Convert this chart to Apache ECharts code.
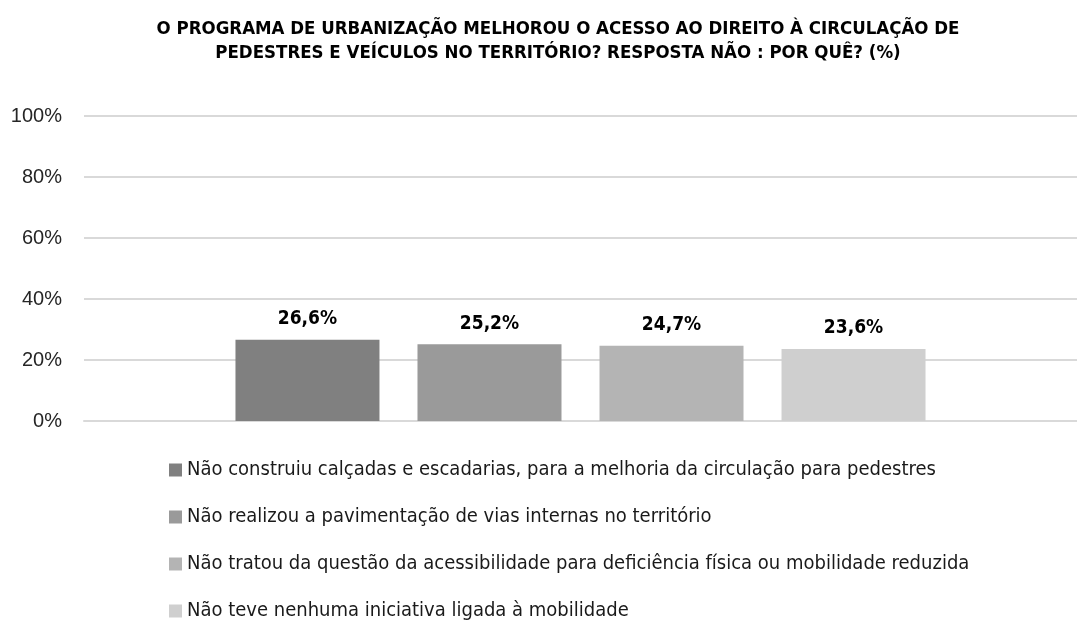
<!DOCTYPE html>
<html>
<head>
<meta charset="utf-8">
<script src="https://cdn.jsdelivr.net/npm/echarts@6/dist/echarts.min.js"></script>
<style>
  html, body { margin: 0; padding: 0; background: #fff; }
  #chart { width: 1077px; height: 624px; }
</style>
</head>
<body>
<div id="chart"></div>
<script>
  var titleText = 'O PROGRAMA DE URBANIZAÇÃO MELHOROU O ACESSO AO DIREITO À CIRCULAÇÃO DE\nPEDESTRES E VEÍCULOS NO TERRITÓRIO? RESPOSTA NÃO : POR QUÊ? (%)'
  var categories = ['']
  var seriesNames = [
    'Não construiu calçadas e escadarias, para a melhoria da circulação para pedestres',
    'Não realizou a pavimentação de vias internas no território',
    'Não tratou da questão da acessibilidade para deficiência física ou mobilidade reduzida',
    'Não teve nenhuma iniciativa ligada à mobilidade'
  ]
  var seriesValues = [26.6, 25.2, 24.7, 23.6]
  var seriesColors = ['#808080', '#9a9a9a', '#b4b4b4', '#cfcfcf']
  var yTicks = [0, 20, 40, 60, 80, 100]

  var narrow = "'Liberation Sans Narrow', 'DejaVu Sans Condensed', sans-serif"

  var series = seriesNames.map(function (name, i) {
    return {
      name: name,
      type: 'bar',
      barWidth: 144,
      barGap: '26.4%',
      itemStyle: { color: seriesColors[i] },
      label: {
        show: true,
        position: 'top',
        distance: 11,
        color: '#000',
        fontFamily: narrow,
        fontWeight: 'bold',
        fontSize: 19,
        formatter: function (p) { return p.value.toFixed(1).replace('.', ',') + '%' }
      },
      data: [seriesValues[i]]
    }
  })

  var option = {
    animation: false,
    title: {
      text: titleText,
      left: 553,
      textAlign: 'center',
      top: 12,
      textStyle: {
        color: '#000',
        fontFamily: narrow,
        fontWeight: 'bold',
        fontSize: 18.5,
        lineHeight: 24
      }
    },
    legend: {
      orient: 'vertical',
      left: 169,
      top: 460,
      height: 200,
      padding: 0,
      itemWidth: 13,
      itemHeight: 13,
      itemGap: 27,
      icon: 'rect',
      textStyle: {
        color: '#1a1a1a',
        fontFamily: narrow,
        fontSize: 20,
        lineHeight: 20
      },
      data: seriesNames
    },
    grid: { left: 84, width: 1003, top: 116, height: 305 },
    xAxis: {
      type: 'category',
      data: categories,
      axisLine: { lineStyle: { color: '#d9d9d9', width: 2 } },
      axisTick: { show: false },
      axisLabel: { show: false }
    },
    yAxis: {
      type: 'value',
      min: yTicks[0],
      max: yTicks[yTicks.length - 1],
      interval: 20,
      axisLine: { show: false },
      axisTick: { show: false },
      splitLine: { lineStyle: { color: '#d9d9d9', width: 2 } },
      axisLabel: {
        margin: 22,
        color: '#262626',
        fontFamily: "'Liberation Sans', Arial, sans-serif",
        fontSize: 20,
        formatter: '{value}%'
      }
    },
    series: series
  }

  var myChart = echarts.init(document.getElementById('chart'))
  myChart.setOption(option)
</script>
</body>
</html>
